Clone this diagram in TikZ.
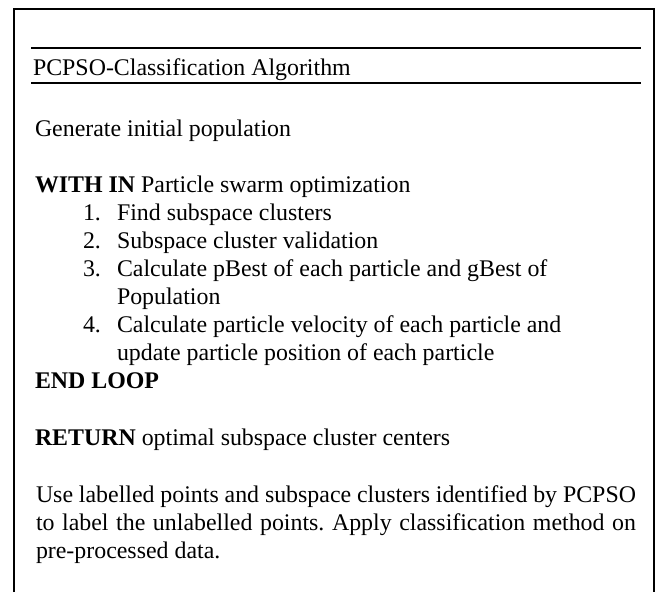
\documentclass[tikz,border=0pt]{standalone}
\usepackage{fontspec}
\setmainfont{Liberation Serif}
\frenchspacing
\newlength{\jw}
\setlength{\jw}{301.5pt}
\begin{document}
\begin{tikzpicture}[x=0.5025pt,y=-0.5025pt,
  txt/.style={anchor=base west,inner sep=0pt,outer sep=0pt,font=\fontsize{12pt}{14pt}\selectfont},
  frame/.style={line width=0.85pt,draw=black},
  rule/.style={line width=1.05pt,draw=black}]
\useasboundingbox (0,0) rectangle (659,592);
\fill[white] (0,0) rectangle (659,592);
% open frame (bottom edge lies below the picture)
\draw[frame] (14,592) -- (14,9) -- (654,9) -- (654,592);
% title rules
\draw[rule] (31,48) -- (641,48);
\draw[rule] (31,83) -- (641,83);
% texts
\node[txt] (title) at (33,75) {PCPSO-Classification Algorithm};
\node[txt] (gen) at (35,136) {Generate initial population};
\node[txt] (with) at (35,192) {\textbf{WITH IN} Particle swarm optimization};
\node[txt] (n1) at (83,220) {1.};
\node[txt] (i1) at (117,220) {Find subspace clusters};
\node[txt] (n2) at (83,248) {2.};
\node[txt] (i2) at (117,248) {Subspace cluster validation};
\node[txt] (n3) at (83,276) {3.};
\node[txt] (i3a) at (117,276) {Calculate pBest of each particle and gBest of};
\node[txt] (i3b) at (117,304) {Population};
\node[txt] (n4) at (83,332) {4.};
\node[txt] (i4a) at (117,332) {Calculate particle velocity of each particle and};
\node[txt] (i4b) at (117,360) {update particle position of each particle};
\node[txt] (endloop) at (35,388) {\textbf{END LOOP}};
\node[txt] (ret) at (35,445) {\textbf{RETURN} optimal subspace cluster centers};
\node[txt] (p1) at (36,502) {\hbox to \jw{Use labelled points and subspace clusters identified by PCPSO}};
\node[txt] (p2) at (36,530) {\hbox to \jw{to label the unlabelled points. Apply classification method on}};
\node[txt] (p3) at (36,558) {pre-processed data.};
\end{tikzpicture}
\end{document}
